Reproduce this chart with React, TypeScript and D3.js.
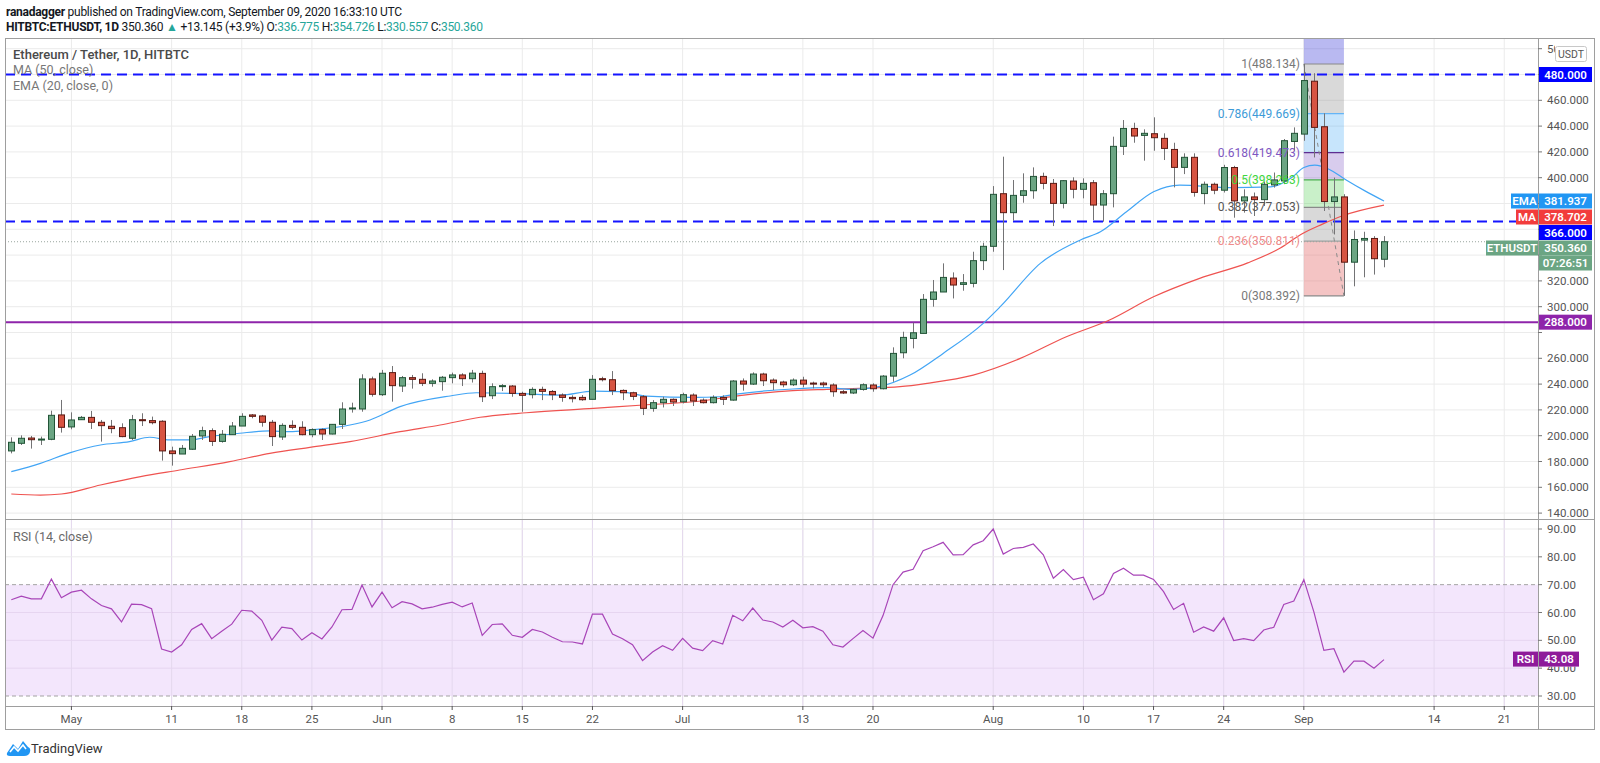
import React from 'react';
import * as d3 from 'd3';

const START = Date.UTC(2020, 3, 25);
const DAY = 86400000;

const opens = [188.2,194.1,198.2,197.0,197.2,216.1,206.8,212.4,214.2,210.4,
207.3,206.2,198.0,212.4,211.7,211.2,188.2,185.8,189.5,199.8,
203.9,195.6,200.8,207.5,216.1,215.3,210.4,199.0,208.0,206.5,
200.8,204.7,201.3,208.8,220.7,220.7,244.0,231.8,248.9,238.5,
245.0,243.7,240.6,241.9,245.0,247.1,244.2,248.3,231.0,238.3,
238.5,232.8,231.8,235.9,234.3,231.5,229.7,229.7,228.2,244.2,
243.4,235.1,233.3,230.2,221.2,225.6,228.2,226.3,231.5,227.6,
225.6,229.7,227.6,242.4,240.0,247.8,243.1,241.6,239.5,243.1,
240.8,240.8,239.3,234.1,233.1,235.9,239.3,236.4,246.2,264.3,
275.4,279.3,305.7,311.4,322.2,317.3,318.1,335.7,346.8,387.6,
372.9,386.3,389.9,401.0,395.6,380.1,397.4,391.0,396.1,378.8,
387.6,424.3,438.2,432.8,434.1,430.5,421.9,408.0,415.8,387.7,
394.9,390.3,407.9,382.0,385.1,383.0,394.4,397.5,428.1,433.8,
474.8,439.5,381.5,385.1,334.5,351.6,352.9,336.775];

const highs = [198.7,200.3,199.8,199.3,219.4,227.7,218.1,215.3,219.2,212.2,
212.2,209.6,216.1,217.4,214.8,212.0,191.5,192.8,201.3,207.0,
205.7,204.4,210.6,217.4,216.8,216.1,212.2,209.6,211.9,211.2,
205.7,205.7,209.0,225.9,225.6,247.6,245.8,251.0,254.0,246.3,
247.1,248.4,243.7,246.3,248.9,248.4,251.0,250.4,240.6,240.0,
239.3,234.1,237.5,238.0,235.4,232.8,231.3,231.5,247.0,245.7,
250.1,235.9,234.1,231.5,227.6,230.2,228.9,233.3,232.8,228.9,
231.3,231.3,243.1,244.4,249.1,248.8,244.4,242.6,244.4,245.7,
241.9,241.9,240.6,235.4,236.7,240.6,240.6,247.0,268.5,280.6,
287.6,309.8,320.7,333.6,326.6,325.3,342.6,349.6,393.5,416.3,
398.2,403.4,408.0,403.9,399.0,398.2,400.3,399.5,398.2,390.4,
431.8,444.7,442.6,437.5,446.8,434.4,427.1,418.9,418.9,397.0,
396.2,410.0,409.2,391.0,388.5,397.0,404.0,430.0,439.0,488.134,
481.0,449.9,400.1,387.2,359.1,358.1,354.7,354.726];

const lows = [186.3,192.8,190.0,192.8,196.5,202.4,205.0,212.2,205.2,195.4,
201.9,198.8,196.7,207.5,208.8,180.7,176.8,185.8,189.0,196.7,
192.0,194.6,200.8,207.5,213.5,207.0,192.0,196.7,205.0,200.3,
198.8,196.7,201.0,205.2,217.9,218.6,230.3,230.8,226.4,233.9,
236.5,238.5,238.0,234.9,240.6,238.5,241.2,226.1,228.4,234.6,
230.2,218.6,228.9,227.6,227.6,226.3,225.8,227.1,228.2,242.1,
231.5,227.6,227.6,216.0,218.6,221.9,223.0,225.0,223.0,225.0,
225.0,223.8,227.1,234.9,239.3,238.5,235.4,237.5,238.5,237.5,
236.7,237.5,230.2,232.3,232.3,234.9,234.1,235.9,241.8,260.0,
267.7,279.3,300.0,311.4,306.4,312.4,315.0,328.4,342.6,328.4,
366.7,380.6,383.7,391.0,362.5,376.2,384.0,384.0,367.2,365.9,
377.0,417.6,427.1,413.2,420.9,413.7,392.5,402.8,385.3,379.4,
387.2,388.5,369.0,372.9,370.3,378.1,392.3,395.0,420.9,428.6,
415.7,374.2,356.0,308.392,315.8,322.8,324.9,330.557];

const closes = [194.9,198.0,196.9,197.4,215.8,206.5,212.2,214.2,210.4,207.8,
205.5,199.3,212.4,211.7,210.1,188.2,186.1,190.2,199.5,203.9,
195.6,201.1,207.5,215.0,215.0,210.4,199.3,208.0,206.5,200.8,
204.7,201.3,208.8,220.7,221.5,244.0,232.1,248.4,238.8,245.0,
243.7,240.6,242.4,245.3,247.1,244.2,248.5,230.2,238.0,238.8,
232.8,231.3,235.9,234.4,231.8,229.7,228.7,227.9,243.7,243.4,
234.9,233.3,230.5,221.2,225.6,228.2,226.1,231.8,226.9,225.6,
229.7,228.2,242.4,240.0,247.8,242.6,241.1,239.5,243.1,240.0,
240.0,239.5,234.1,233.1,235.9,239.5,236.4,246.2,263.8,276.2,
279.8,305.7,311.4,322.7,316.8,318.6,335.7,346.8,387.1,372.9,
386.3,389.9,401.0,395.6,380.1,397.7,391.0,395.6,378.8,387.6,
424.3,438.2,432.3,434.4,431.0,422.7,408.0,415.8,388.6,394.9,
390.3,407.9,382.0,385.1,383.0,394.9,398.3,428.7,434.4,475.3,
439.0,381.5,385.1,334.5,352.1,352.9,337.215,350.36];

const rsiValues = [64.6,65.9,64.9,64.9,72.0,65.3,67.3,68.0,64.9,62.5,
61.3,56.6,63.0,62.8,61.4,46.9,45.8,48.4,53.9,56.0,
50.6,53.3,55.8,60.8,60.5,57.2,50.1,54.7,54.2,50.1,
52.7,50.5,54.8,61.0,61.1,69.9,62.0,67.3,61.7,63.9,
63.1,61.3,61.9,62.9,63.7,62.0,63.4,51.8,55.7,55.9,
51.8,51.1,53.9,53.0,51.1,49.5,49.4,48.7,59.4,59.4,
52.3,50.6,48.4,42.7,45.8,48.1,46.4,50.7,47.2,46.3,
49.9,48.7,59.0,57.0,61.6,57.3,56.6,54.8,57.2,54.5,
54.9,53.3,48.4,47.6,50.6,53.5,50.8,58.9,70.0,74.5,
75.5,82.2,83.6,85.2,80.7,80.8,84.3,85.8,90.0,81.0,
83.0,83.4,84.6,80.7,72.3,75.4,71.8,72.7,64.6,66.7,
74.0,75.9,73.4,73.4,71.9,67.5,61.1,63.3,52.9,54.8,
53.3,58.1,49.9,50.6,49.9,53.7,54.7,62.9,64.1,71.8,
60.2,46.4,47.0,38.6,42.5,42.5,40.0,43.08];

// [day index, value]
const emaPoints: [number, number][] = [[0,172.1],[2.9,178.6],[5.9,186.9],[8.9,192.8],[11.8,195.4],[13.8,198.8],[15.8,196.7],[17.8,196.7],[19.8,199.3],[22.8,201.9],[25.8,203.7],[27.8,203.1],[29.8,204.4],[33.8,208.3],[35.8,212.2],[38.8,222.5],[43.8,230.8],[46.4,233.3],[50.1,232.8],[54.8,231.5],[58.1,234.6],[60.7,234.1],[63.4,230.7],[68.1,229.7],[70.7,230.2],[72.4,232.3],[78,236.2],[81.4,237.2],[84,235.9],[86.6,238.0],[89.7,247],[93,263.8],[97,287.1],[98.7,300],[102.7,333.6],[106.7,351.7],[108.7,358.1],[111.3,373.6],[114,389.1],[116.6,394.3],[121.7,392.3],[125.7,392.9],[127.8,400.1],[129,407.9],[130.1,409.7],[131.5,406.6],[133.1,398.8],[135.1,389.8],[137,381.937]];

const maPoints: [number, number][] = [[0,154.8],[2.9,154.0],[5,154.8],[8.9,161.8],[12.9,168.3],[16.8,173.4],[21.8,179.9],[25.8,186.3],[29.8,191],[33.8,195.4],[38.8,203.1],[42.8,208.3],[46.8,214.3],[51.4,217.8],[58.1,221.2],[63.1,223.8],[68.1,226.3],[73.1,231.5],[78,234.9],[81.4,235.9],[84.7,236.7],[88.7,238],[91.4,240.6],[96,247],[100.7,259.9],[105.3,276.7],[109.6,289.7],[114,307.7],[118.6,322],[123.4,334],[126.7,345.7],[128.7,356],[130.8,363.8],[132.8,370.3],[137,378.702]];

const priceTicks = d3.range(140, 501, 20);
const rsiTicks = [90, 80, 70, 60, 50, 40, 30];
const timeTickDates = ['2020-05-01','2020-05-11','2020-05-18','2020-05-25','2020-06-01','2020-06-08','2020-06-15','2020-06-22','2020-07-01','2020-07-13','2020-07-20','2020-08-01','2020-08-10','2020-08-17','2020-08-24','2020-09-01','2020-09-14','2020-09-21'];

const dashedLevels = [480, 366];
const supportLevel = 288;
const emaLast = 381.937;
const maLast = 378.702;
const lastPrice = 350.36;
const rsiLast = 43.08;

const fibHigh = 488.134;
const fibLow = 308.392;
const fibStartIdx = 129;
const fibEndIdx = 133;
const fibRatios = [0, 0.236, 0.382, 0.5, 0.618, 0.786, 1];
const fibLineColors = ['#8a8a8a', '#a0a0a0', '#8a8a8a', '#4caf50', '#5e2d91', '#64b5f6', '#8a8a8a'];
const fibLabelColors = ['#787878', '#ef8c8c', '#555555', '#3ed63e', '#7e57c2', '#3d9bd8', '#787878'];
const fibBandFills = ['rgba(229,115,115,0.42)', 'rgba(128,128,128,0.30)', 'rgba(76,205,76,0.30)', 'rgba(126,87,194,0.30)', 'rgba(33,150,243,0.25)', 'rgba(128,128,128,0.30)'];
const fibTopFill = 'rgba(80,80,220,0.40)';

const UP = '#6ba583', DOWN = '#d75442', UPB = '#225437', DOWNB = '#5b1a13', WICK = '#737375';
const FONT = "Roboto, 'Noto Sans', sans-serif";

export default function App() {
  const L = 5, R = 1594, AX = 1538, TOP = 38, PB = 519, RT = 520, RB = 706, TB = 729;
  const dates = closes.map((_, i) => new Date(START + i * DAY));
  const x = d3.scaleUtc().domain([dates[0], dates[dates.length - 1]]).range([11.3, 1384]);
  const xi = (i: number) => x(new Date(START + i * DAY));
  const y = d3.scaleLinear().domain([140, 480]).range([513.1, 74.5]);
  const yr = d3.scaleLinear().domain([30, 90]).range([696, 529]);

  const lineP = d3.line<[number, number]>().x(d => xi(d[0])).y(d => y(d[1])).curve(d3.curveMonotoneX);
  const rsiLine = d3.line<number>().x((_, i) => xi(i)).y(d => yr(d));
  const fmtTick = (d: Date) => d.getUTCDate() === 1 ? d3.utcFormat('%b')(d) : d3.utcFormat('%-d')(d);
  const timeTicks = timeTickDates.map(s => new Date(s + 'T00:00:00Z'));

  const fibVal = (r: number) => fibLow + r * (fibHigh - fibLow);
  const fx1 = xi(fibStartIdx), fx2 = xi(fibEndIdx);

  const emaY = y(emaLast);
  const maY = emaY + 16;
  const l366Y = maY + 15.5;
  const lastY = l366Y + 15.5;
  const cdY = lastY + 15;
  const boxCenters = [y(480), emaY, maY, l366Y, lastY, cdY, y(supportLevel)];
  const showTick = (v: number) => boxCenters.every(c => Math.abs(y(v) - c) > 13);
  const rsiBoxY = yr(rsiLast) - 0.5;

  const box = (x0: number, w: number, cy: number, fill: string, text: string, key: string) => (
    <g key={key}>
      <rect x={x0} y={cy - 7.5} width={w} height={15} fill={fill} />
      <text x={x0 + w / 2} y={cy} fill="#fff" fontSize={11.5} fontWeight={600} textAnchor="middle" dominantBaseline="central">{text}</text>
    </g>
  );

  return (
    <svg width={1600} height={763} style={{ position: 'absolute', left: 0, top: 0, background: '#fff' }} fontFamily={FONT}>
      <defs>
        <clipPath id="pricePane"><rect x={L} y={TOP} width={AX - L} height={PB - TOP} /></clipPath>
        <clipPath id="rsiPane"><rect x={L} y={RT} width={AX - L} height={RB - RT} /></clipPath>
        <clipPath id="topLabel"><rect x={AX} y={TOP} width={1555 - AX} height={30} /></clipPath>
        <clipPath id="rsi40"><rect x={AX} y={rsiBoxY + 7.5} width={60} height={12} /></clipPath>
      </defs>
      <rect x={0} y={0} width={1600} height={763} fill="#fff" />

      {/* header */}
      <text x={6} y={12} fontSize={12} fill="#131722" dominantBaseline="central" textLength={396}>
        <tspan fontWeight={700}>ranadagger</tspan>
        <tspan> published on TradingView.com, September 09, 2020 16:33:10 UTC</tspan>
      </text>
      <text x={6} y={26.5} fontSize={12} fill="#131722" dominantBaseline="central" textLength={477}>
        <tspan fontWeight={700}>HITBTC:ETHUSDT, 1D</tspan>
        <tspan> 350.360 </tspan>
        <tspan fill="#26a69a">▲</tspan>
        <tspan> +13.145 (+3.9%) O:</tspan><tspan fill="#26a69a">336.775</tspan>
        <tspan> H:</tspan><tspan fill="#26a69a">354.726</tspan>
        <tspan> L:</tspan><tspan fill="#26a69a">330.557</tspan>
        <tspan> C:</tspan><tspan fill="#26a69a">350.360</tspan>
      </text>

      {/* grid */}
      <g stroke="#ebebeb" strokeWidth={1}>
        {priceTicks.map(v => <line key={'pg' + v} x1={L} x2={AX} y1={y(v)} y2={y(v)} />)}
        {timeTicks.map((d, i) => <line key={'vg' + i} x1={x(d)} x2={x(d)} y1={TOP} y2={RB} />)}
      </g>

      {/* RSI pane */}
      <g clipPath="url(#rsiPane)">
        <rect x={L} y={yr(70)} width={AX - L} height={yr(30) - yr(70)} fill="#f3e6fc" />
        {timeTicks.map((d, i) => <line key={'vg2' + i} x1={x(d)} x2={x(d)} y1={RT} y2={RB} stroke="#e4d8ee" />)}
        {[90, 80, 60, 50, 40].map(v => <line key={'rg' + v} x1={L} x2={AX} y1={yr(v)} y2={yr(v)} stroke={v < 70 ? '#e6d5f0' : '#ebebeb'} />)}
        {[70, 30].map(v => <line key={'rd' + v} x1={L} x2={AX} y1={yr(v)} y2={yr(v)} stroke="#a3a3a3" strokeDasharray="4 3" />)}
        <path d={rsiLine(rsiValues) || ''} fill="none" stroke="#a845b8" strokeWidth={1.2} />
      </g>
      <text x={13} y={536} fontSize={12.5} fill="#6a6a6a" dominantBaseline="central">RSI (14, close)</text>

      <g clipPath="url(#pricePane)">
        {/* fib retracement */}
        <rect x={fx1} y={TOP} width={fx2 - fx1} height={y(fibHigh) - TOP} fill={fibTopFill} />
        {fibBandFills.map((f, k) => (
          <rect key={'fb' + k} x={fx1} y={y(fibVal(fibRatios[k + 1]))} width={fx2 - fx1}
            height={y(fibVal(fibRatios[k])) - y(fibVal(fibRatios[k + 1]))} fill={f} />
        ))}
        {fibRatios.map((r, k) => (
          <line key={'fl' + k} x1={fx1} x2={fx2} y1={y(fibVal(r))} y2={y(fibVal(r))} stroke={fibLineColors[k]} strokeWidth={1.2} />
        ))}
        <line x1={fx1} y1={y(fibHigh)} x2={fx2} y2={y(fibLow)} stroke="#8a8a8a" strokeDasharray="4 4" strokeWidth={1} />

        {/* horizontal levels */}
        {dashedLevels.map(v => <line key={'dl' + v} x1={L} x2={AX} y1={y(v)} y2={y(v)} stroke="#1414ff" strokeWidth={2} strokeDasharray="10 6" />)}
        <line x1={L} x2={AX} y1={y(supportLevel)} y2={y(supportLevel)} stroke="#8e24aa" strokeWidth={2} />
        <line x1={L} x2={AX} y1={y(lastPrice)} y2={y(lastPrice)} stroke="#9aa59f" strokeWidth={1} strokeDasharray="1 2" />

        {/* moving averages */}
        <path d={lineP(maPoints) || ''} fill="none" stroke="#ef5350" strokeWidth={1.2} />
        <path d={lineP(emaPoints) || ''} fill="none" stroke="#42a5f5" strokeWidth={1.2} />

        {/* candles */}
        {closes.map((c, i) => {
          const o = opens[i];
          const cx = Math.round(xi(i)) + 0.5;
          const up = c >= o;
          const top = y(Math.max(o, c));
          const h = Math.max(1, Math.abs(y(o) - y(c)));
          return (
            <g key={'c' + i}>
              <line x1={cx} x2={cx} y1={y(highs[i])} y2={y(lows[i])} stroke={WICK} strokeWidth={1} />
              <rect x={cx - 3} y={top} width={6} height={h} fill={up ? UP : DOWN} stroke={up ? UPB : DOWNB} strokeWidth={1} />
            </g>
          );
        })}

        {/* fib labels */}
        {fibRatios.map((r, k) => (
          <text key={'ft' + k} x={fx1 - 4} y={y(fibVal(r))} fontSize={12} fill={fibLabelColors[k]} textAnchor="end" dominantBaseline="central">
            {`${r}(${fibVal(r).toFixed(3)})`}
          </text>
        ))}
      </g>

      {/* legend */}
      <text x={13} y={54} fontSize={13} fill="#4a4a4a" fontWeight={500} dominantBaseline="central">Ethereum / Tether, 1D, HITBTC</text>
      <text x={13} y={69} fontSize={12.5} fill="#777" dominantBaseline="central">MA (50, close)</text>
      <text x={13} y={85} fontSize={12.5} fill="#777" dominantBaseline="central">EMA (20, close, 0)</text>

      {/* frame */}
      <g stroke="#9e9e9e" strokeWidth={1} fill="none">
        <rect x={L + 0.5} y={TOP + 0.5} width={R - L} height={TB - TOP} />
        <line x1={AX + 0.5} x2={AX + 0.5} y1={TOP} y2={TB} />
        <line x1={L} x2={R} y1={PB + 0.5} y2={PB + 0.5} />
        <line x1={L} x2={R} y1={RB + 0.5} y2={RB + 0.5} />
      </g>

      {/* price axis */}
      {priceTicks.map(v => (
        <g key={'pt' + v}>
          <line x1={AX} x2={AX + 4} y1={y(v)} y2={y(v)} stroke="#777" />
          {showTick(v) && (
            <text x={AX + 9} y={y(v)} fontSize={11.5} fill="#555" dominantBaseline="central"
              clipPath={v === 500 ? 'url(#topLabel)' : undefined}>{v.toFixed(3)}</text>
          )}
        </g>
      ))}
      <g>
        <rect x={1555.5} y={46.5} width={31} height={15} rx={2} fill="#fff" stroke="#c8c8c8" />
        <text x={1571} y={54} fontSize={10.5} fill="#555" textAnchor="middle" dominantBaseline="central">USDT</text>
      </g>
      {box(AX + 1, 53, y(480), '#0000ff', '480.000', 'b480')}
      {box(1511, 27, emaY, '#2196f3', 'EMA', 'bemaL')}
      {box(AX + 1, 53, emaY, '#2196f3', emaLast.toFixed(3), 'bema')}
      {box(1516, 22, maY, '#f23c3c', 'MA', 'bmaL')}
      {box(AX + 1, 53, maY, '#f23c3c', maLast.toFixed(3), 'bma')}
      {box(AX + 1, 53, l366Y, '#0000ff', '366.000', 'b366')}
      {box(1486, 52, lastY, '#6ba583', 'ETHUSDT', 'blastL')}
      {box(AX + 1, 53, lastY, '#6ba583', lastPrice.toFixed(3), 'blast')}
      {box(AX + 1, 53, cdY, '#6ba583', '07:26:51', 'bcd')}
      {box(AX + 1, 53, y(supportLevel), '#8e24aa', supportLevel.toFixed(3), 'b288')}

      {/* RSI axis */}
      {rsiTicks.map(v => (
        <g key={'rt' + v}>
          <line x1={AX} x2={AX + 4} y1={yr(v)} y2={yr(v)} stroke="#777" />
          <text x={AX + 9} y={yr(v)} fontSize={11.5} fill="#555" dominantBaseline="central"
            clipPath={v === 40 ? 'url(#rsi40)' : undefined}>{v.toFixed(2)}</text>
        </g>
      ))}
      {box(1513, 25, rsiBoxY, '#8e1a9a', 'RSI', 'brsiL')}
      {box(AX + 1, 40, rsiBoxY, '#8e1a9a', rsiLast.toFixed(2), 'brsi')}

      {/* time axis */}
      {timeTicks.map((d, i) => (
        <g key={'tt' + i}>
          <line x1={x(d)} x2={x(d)} y1={RB} y2={RB + 4} stroke="#555" />
          <text x={x(d)} y={719} fontSize={11.5} fill="#555" textAnchor="middle" dominantBaseline="central">{fmtTick(d)}</text>
        </g>
      ))}

      {/* logo */}
      <g transform="translate(6,738)">
        <path d="M1 15 L7 6 L12 11 L17 3 L22 9 Q25 10 24 14 Q23 18 18 18 L4 18 Q0 18 1 15 Z" fill="#2196f3" />
        <path d="M4 14 L8 9 L12 13 L17 7 L20 11" fill="none" stroke="#fff" strokeWidth={1.6} />
      </g>
      <text x={31} y={748} fontSize={13} fill="#333" dominantBaseline="central">TradingView</text>
    </svg>
  );
}
